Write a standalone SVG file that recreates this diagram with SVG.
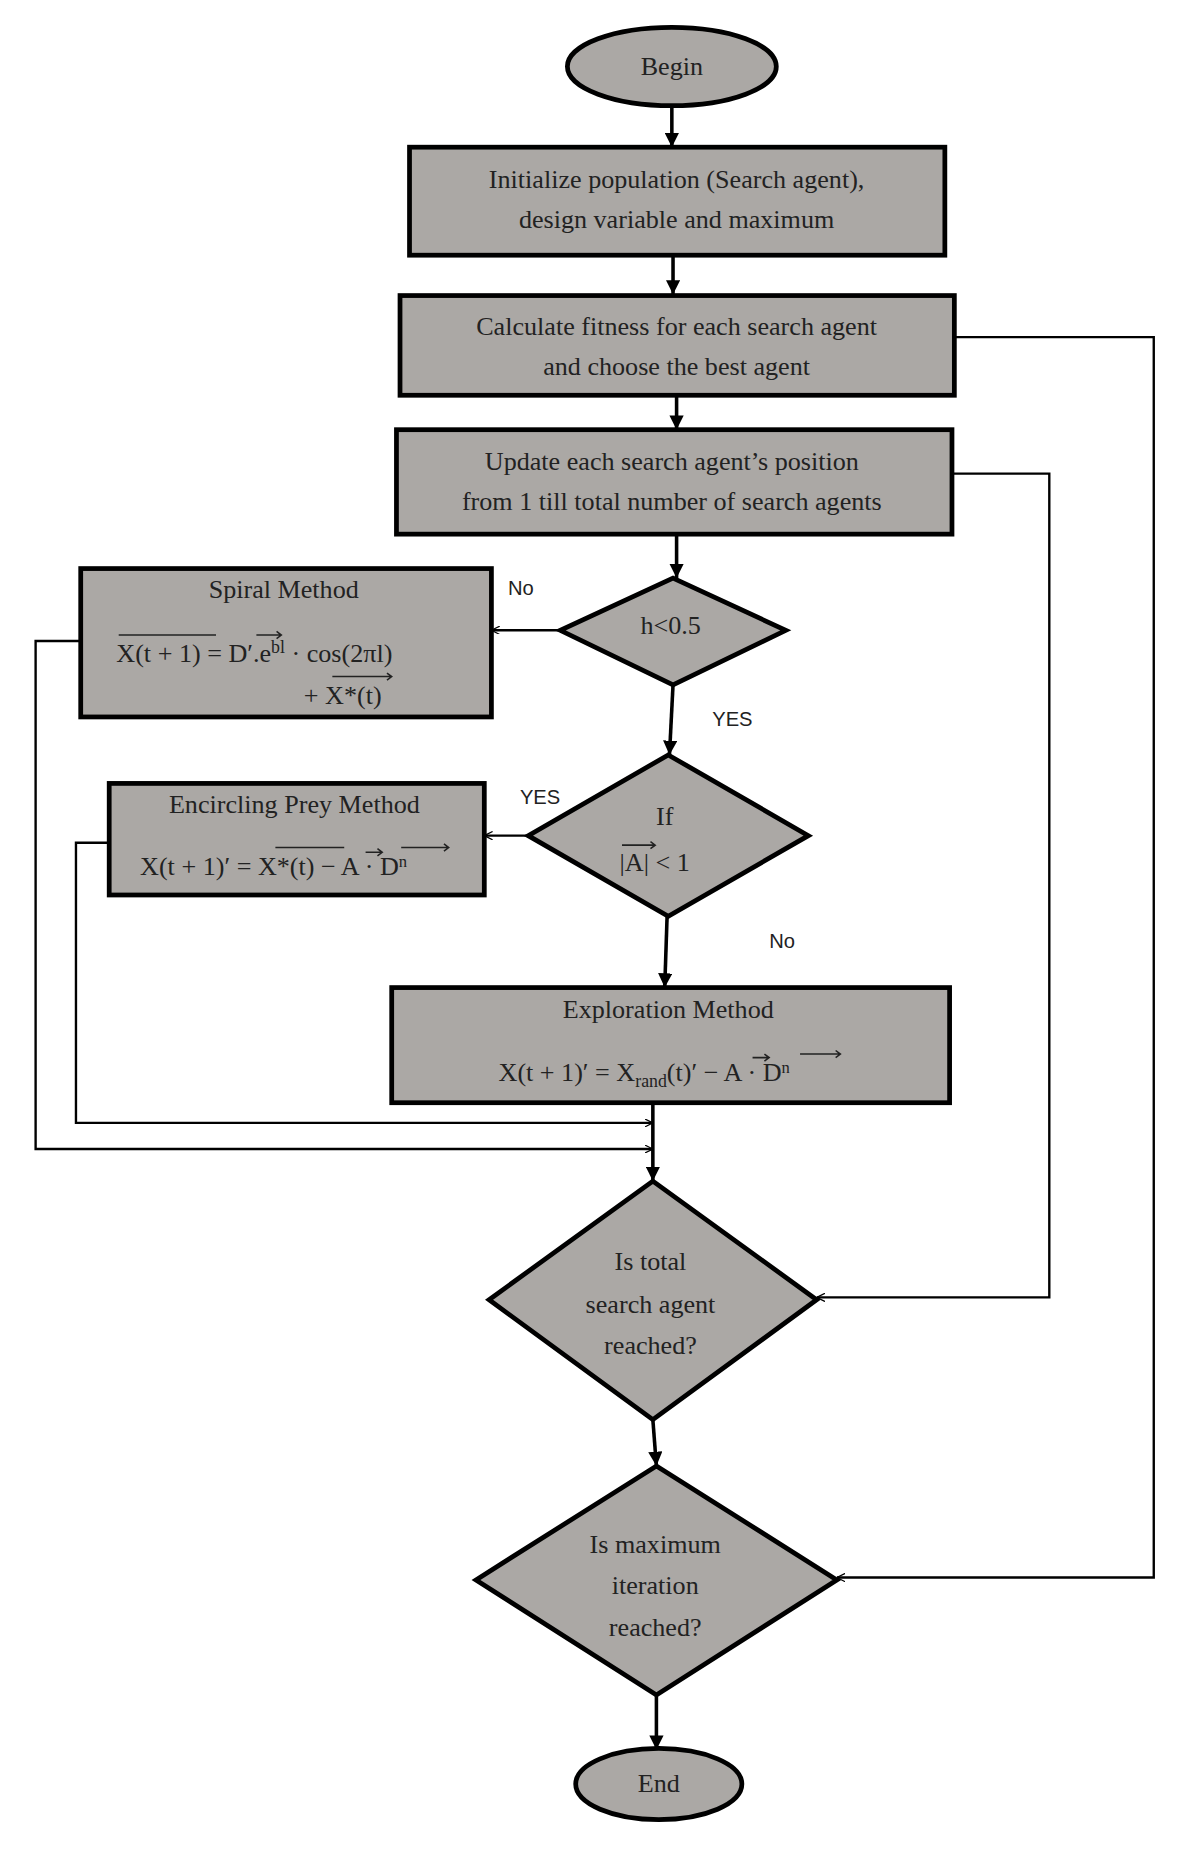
<svg xmlns="http://www.w3.org/2000/svg" width="1187" height="1850" viewBox="0 0 1187 1850">
<style>
.n{fill:#aba8a5;stroke:#000;stroke-width:4}
.t{font-family:"Liberation Serif",serif;font-size:22px;fill:#222;text-anchor:middle}
.m{font-family:"Liberation Serif",serif;font-size:22px;fill:#222}
.l{font-family:"Liberation Sans",sans-serif;font-size:17px;fill:#222}
.c{fill:none;stroke:#000;stroke-width:3}
.s{fill:none;stroke:#000;stroke-width:2}
.o{fill:none;stroke:#222;stroke-width:1.3}
</style>
<defs>
<marker id="a" viewBox="0 0 10 10" refX="10" refY="5" markerWidth="4" markerHeight="4" orient="auto"><path d="M0,0L10,5L0,10z" fill="#000"/></marker>
<marker id="v" viewBox="0 0 10 10" refX="10" refY="5" markerWidth="7" markerHeight="7" orient="auto" markerUnits="userSpaceOnUse"><path d="M0,0L10,5L0,10" fill="none" stroke="#000" stroke-width="1.5"/></marker>
</defs>
<rect width="1187" height="1850" fill="#fff"/>
<g transform="scale(1.187)">
<g id="connectors">
<path class="c" d="M566,89V124" marker-end="url(#a)"/>
<path class="c" d="M567,215V248" marker-end="url(#a)"/>
<path class="c" d="M570,333V362" marker-end="url(#a)"/>
<path class="c" d="M570,450V487" marker-end="url(#a)"/>
<path class="s" d="M472,531H414" marker-end="url(#v)"/>
<path class="c" d="M567,577L564,636" marker-end="url(#a)"/>
<path class="s" d="M445,704H408" marker-end="url(#v)"/>
<path class="c" d="M562,772L560,832" marker-end="url(#a)"/>
<path class="c" d="M550,929V995" marker-end="url(#a)"/>
<path class="s" d="M92,710H64V946H550" marker-end="url(#v)"/>
<path class="s" d="M68,540H30V968H550" marker-end="url(#v)"/>
<path class="s" d="M802,399H884V1093H688" marker-end="url(#v)"/>
<path class="s" d="M804,284H972V1329H705" marker-end="url(#v)"/>
<path class="c" d="M550,1196L553,1235" marker-end="url(#a)"/>
<path class="c" d="M553,1428V1474" marker-end="url(#a)"/>
<text class="l" x="428" y="501">No</text>
<text class="l" x="600" y="612">YES</text>
<text class="l" x="438" y="677">YES</text>
<text class="l" x="648" y="799">No</text>
</g>
<g id="begin"><ellipse class="n" cx="566" cy="56" rx="88" ry="33" stroke-width="2"/><text class="t" x="566" y="63">Begin</text></g>
<g id="init"><rect class="n" x="345" y="124" width="451" height="91"/><text class="t" x="570" y="158">Initialize population (Search agent),</text><text class="t" x="570" y="192">design variable and maximum</text></g>
<g id="calc"><rect class="n" x="337" y="249" width="467" height="84"/><text class="t" x="570" y="282">Calculate fitness for each search agent</text><text class="t" x="570" y="316">and choose the best agent</text></g>
<g id="update"><rect class="n" x="334" y="362" width="468" height="88"/><text class="t" x="566" y="396">Update each search agent’s position</text><text class="t" x="566" y="430">from 1 till total number of search agents</text></g>
<g id="h"><path class="n" d="M567,487L662,531L567,577L472,531Z"/><text class="t" x="565" y="534">h&lt;0.5</text></g>
<g id="spiral"><rect class="n" x="68" y="479" width="346" height="125" stroke-width="3"/>
<text class="t" x="239" y="504">Spiral Method</text>
<text class="m" x="98" y="558">X(t + 1) = D′.e<tspan dy="-8" font-size="15">bl</tspan><tspan dy="8"> · cos(2πl)</tspan></text>
<text class="m" x="256" y="593">+ X*(t)</text>
<path class="o" d="M100,535H182M216,535H237M233,532L237,535L233,538M280,570H330M326,567L330,570L326,573"/>
</g>
<g id="ifA"><path class="n" d="M563,636L681,704L563,772L445,704Z"/><text class="t" x="560" y="695">If</text><text class="m" x="522" y="734">|A| &lt; 1</text><path class="o" d="M524,712H552M548,709L552,712L548,715"/></g>
<g id="encircle"><rect class="n" x="92" y="660" width="316" height="94" stroke-width="3"/>
<text class="t" x="248" y="685">Encircling Prey Method</text>
<text class="m" x="118" y="737">X(t + 1)′ = X*(t) − A · D<tspan dy="-7" font-size="14">n</tspan></text>
<path class="o" d="M232,714H290M308,718H322M318,715L322,718L318,721M338,714H378M374,711L378,714L374,717"/>
</g>
<g id="explore"><rect class="n" x="330" y="832" width="470" height="97"/>
<text class="t" x="563" y="858">Exploration Method</text>
<text class="m" x="420" y="911">X(t + 1)′ = X<tspan dy="5" font-size="15">rand</tspan><tspan dy="-5">(t)′ − A · D</tspan><tspan dy="-7" font-size="14">n</tspan></text>
<path class="o" d="M634,891H648M644,888L648,891L644,894M674,888H708M704,885L708,888L704,891"/>
</g>
<g id="total"><path class="n" d="M550,995L688,1095L550,1196L412,1095Z"/><text class="t" x="548" y="1070">Is total</text><text class="t" x="548" y="1106">search agent</text><text class="t" x="548" y="1141">reached?</text></g>
<g id="maxit"><path class="n" d="M553,1235L705,1331L553,1428L401,1331Z"/><text class="t" x="552" y="1308">Is maximum</text><text class="t" x="552" y="1343">iteration</text><text class="t" x="552" y="1378">reached?</text></g>
<g id="end"><ellipse class="n" cx="555" cy="1503" rx="70" ry="30" stroke-width="3"/><text class="t" x="555" y="1510">End</text></g>
</g>
</svg>
